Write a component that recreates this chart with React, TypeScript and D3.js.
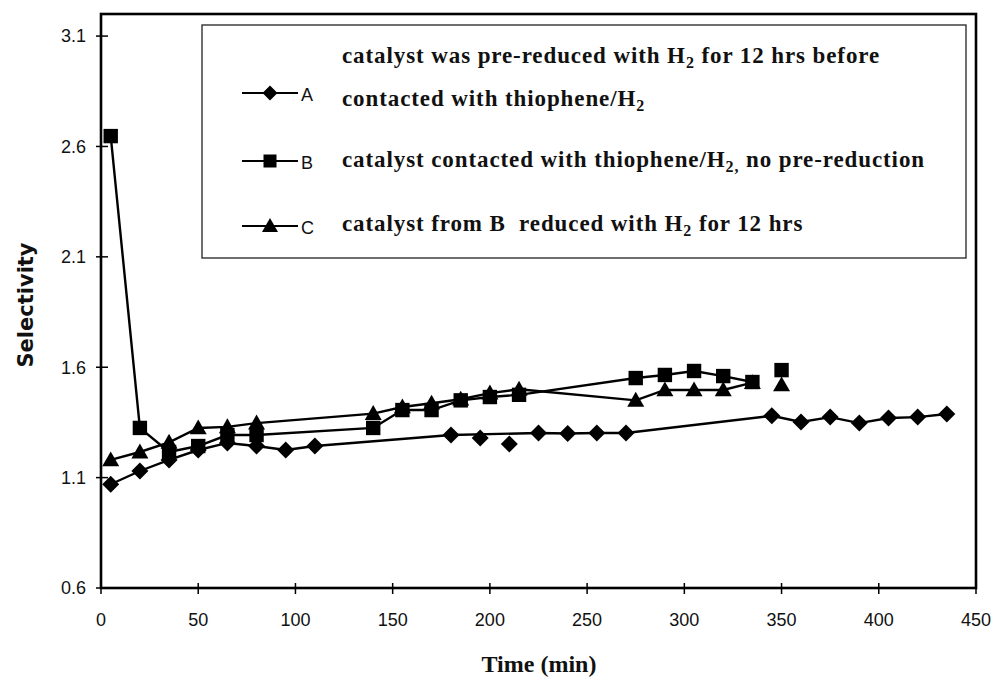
import React from "react";
import * as d3 from "d3";

// series A: pre-reduced catalyst
const timeA = [5, 20, 35, 50, 65, 80, 95, 110, 180, 225, 240, 255, 270, 345, 360, 375, 390, 405, 420, 435];
const selA = [1.07, 1.13, 1.18, 1.225, 1.257, 1.243, 1.225, 1.243, 1.293, 1.302, 1.3, 1.302, 1.302, 1.38, 1.352, 1.374, 1.347, 1.37, 1.374, 1.388];
const looseTimeA = [195, 210];
const looseSelA = [1.28, 1.252];

// series B: no pre-reduction
const timeB = [5, 20, 35, 50, 65, 80, 140, 155, 170, 185, 200, 215, 275, 290, 305, 320, 335];
const selB = [2.647, 1.325, 1.216, 1.243, 1.293, 1.293, 1.325, 1.406, 1.406, 1.45, 1.465, 1.475, 1.551, 1.565, 1.583, 1.56, 1.533];
const looseTimeB = [350];
const looseSelB = [1.587];

// series C: B reduced again
const timeC = [5, 20, 35, 50, 65, 80, 140, 155, 170, 185, 200, 215, 275, 290, 305, 320, 335];
const selC = [1.18, 1.216, 1.26, 1.325, 1.33, 1.347, 1.39, 1.42, 1.437, 1.455, 1.483, 1.5, 1.45, 1.497, 1.497, 1.497, 1.53];
const looseTimeC = [350];
const looseSelC = [1.52];

const xTicks = [0, 50, 100, 150, 200, 250, 300, 350, 400, 450];
const yTicks = [0.6, 1.1, 1.6, 2.1, 2.6, 3.1];

const W = 993;
const H = 678;

const x = d3.scaleLinear().domain([0, 450]).range([101, 976]);
const y = d3.scaleLinear().domain([0.6, 3.2]).range([588, 14]);

type Shape = "diamond" | "square" | "triangle";

function markerPath(shape: Shape, cx: number, cy: number, s: number) {
  if (shape === "diamond") {
    return `M${cx},${cy - s}L${cx + s},${cy}L${cx},${cy + s}L${cx - s},${cy}Z`;
  }
  if (shape === "square") {
    return `M${cx - s},${cy - s}h${2 * s}v${2 * s}h${-2 * s}Z`;
  }
  return `M${cx},${cy - s}L${cx + s},${cy + s * 0.75}L${cx - s},${cy + s * 0.75}Z`;
}

const line = d3
  .line<[number, number]>()
  .x((d) => x(d[0]))
  .y((d) => y(d[1]));

const zip = (t: number[], v: number[]) => t.map((d, i) => [d, v[i]] as [number, number]);

const series = [
  { key: "A", shape: "diamond" as Shape, size: 8.5, pts: zip(timeA, selA), loose: zip(looseTimeA, looseSelA) },
  { key: "B", shape: "square" as Shape, size: 7.2, pts: zip(timeB, selB), loose: zip(looseTimeB, looseSelB) },
  { key: "C", shape: "triangle" as Shape, size: 8.5, pts: zip(timeC, selC), loose: zip(looseTimeC, looseSelC) },
];

const serif = "'Liberation Serif', 'Times New Roman', serif";
const sans = "'Liberation Sans', Arial, sans-serif";

function Sub({ children }: { children: React.ReactNode }) {
  return (
    <tspan dy={5} fontSize={16}>
      {children}
    </tspan>
  );
}

export default function App() {
  const legendRows = [
    { key: "A", shape: "diamond" as Shape, size: 7.5, y: 93 },
    { key: "B", shape: "square" as Shape, size: 6.5, y: 161 },
    { key: "C", shape: "triangle" as Shape, size: 8, y: 226 },
  ];

  return (
    <svg width={W} height={H} style={{ position: "absolute", left: 0, top: 0, background: "#fff" }}>
      {/* plot frame */}
      <rect x={x(0)} y={y(3.2)} width={x(450) - x(0)} height={y(0.6) - y(3.2)} fill="none" stroke="#000" strokeWidth={2.6} />

      {/* y ticks */}
      {yTicks.map((t) => (
        <g key={t}>
          <line x1={x(0) - 5} x2={x(0) + 7} y1={y(t)} y2={y(t)} stroke="#000" strokeWidth={1.5} />
          <text x={86} y={y(t)} dy="0.35em" textAnchor="end" fontFamily={sans} fontSize={18} fill="#111">
            {d3.format(".1f")(t)}
          </text>
        </g>
      ))}

      {/* x ticks */}
      {xTicks.map((t) => (
        <g key={t}>
          <line x1={x(t)} x2={x(t)} y1={y(0.6) - 5} y2={y(0.6) + 6} stroke="#000" strokeWidth={1.5} />
          <text x={x(t)} y={620} dy="0.35em" textAnchor="middle" fontFamily={sans} fontSize={18} fill="#111">
            {t}
          </text>
        </g>
      ))}

      {/* axis titles */}
      <text x={539} y={672} textAnchor="middle" fontFamily={serif} fontWeight="bold" fontSize={24} fill="#111">
        Time (min)
      </text>
      <text
        transform={`translate(33, 305) rotate(-90)`}
        textAnchor="middle"
        fontFamily="'DejaVu Sans', Verdana, sans-serif"
        fontWeight="bold"
        fontSize={21}
        fill="#111"
      >
        Selectivity
      </text>

      {/* lines */}
      {series.map((s) => (
        <path key={s.key} d={line(s.pts) || ""} fill="none" stroke="#000" strokeWidth={2.4} />
      ))}

      {/* markers */}
      {series.map((s) => (
        <g key={s.key + "m"}>
          {s.pts.concat(s.loose).map((p, i) => (
            <path key={i} d={markerPath(s.shape, x(p[0]), y(p[1]), s.size)} fill="#000" />
          ))}
        </g>
      ))}

      {/* legend */}
      <rect x={202} y={25} width={764} height={233} fill="#fff" stroke="#222" strokeWidth={1.3} />
      {legendRows.map((r) => (
        <g key={r.key}>
          <line x1={242} x2={298} y1={r.y} y2={r.y} stroke="#000" strokeWidth={2.2} />
          <path d={markerPath(r.shape, 270, r.y, r.size)} fill="#000" />
          <text x={301} y={r.y + 8} fontFamily={sans} fontSize={18} fill="#111">
            {r.key}
          </text>
        </g>
      ))}
      <g fontFamily={serif} fontWeight="bold" fontSize={23} letterSpacing={0.9} fill="#111">
        <text x={342} y={63}>
          catalyst was pre-reduced with H<Sub>2</Sub>
          <tspan dy={-5}> for 12 hrs before</tspan>
        </text>
        <text x={342} y={106}>
          contacted with thiophene/H<Sub>2</Sub>
        </text>
        <text x={342} y={167}>
          catalyst contacted with thiophene/H<Sub>2,</Sub>
          <tspan dy={-5}> no pre-reduction</tspan>
        </text>
        <text x={342} y={231}>
          {"catalyst from B\u00a0 reduced with H"}<Sub>2</Sub>
          <tspan dy={-5}> for 12 hrs</tspan>
        </text>
      </g>
    </svg>
  );
}
